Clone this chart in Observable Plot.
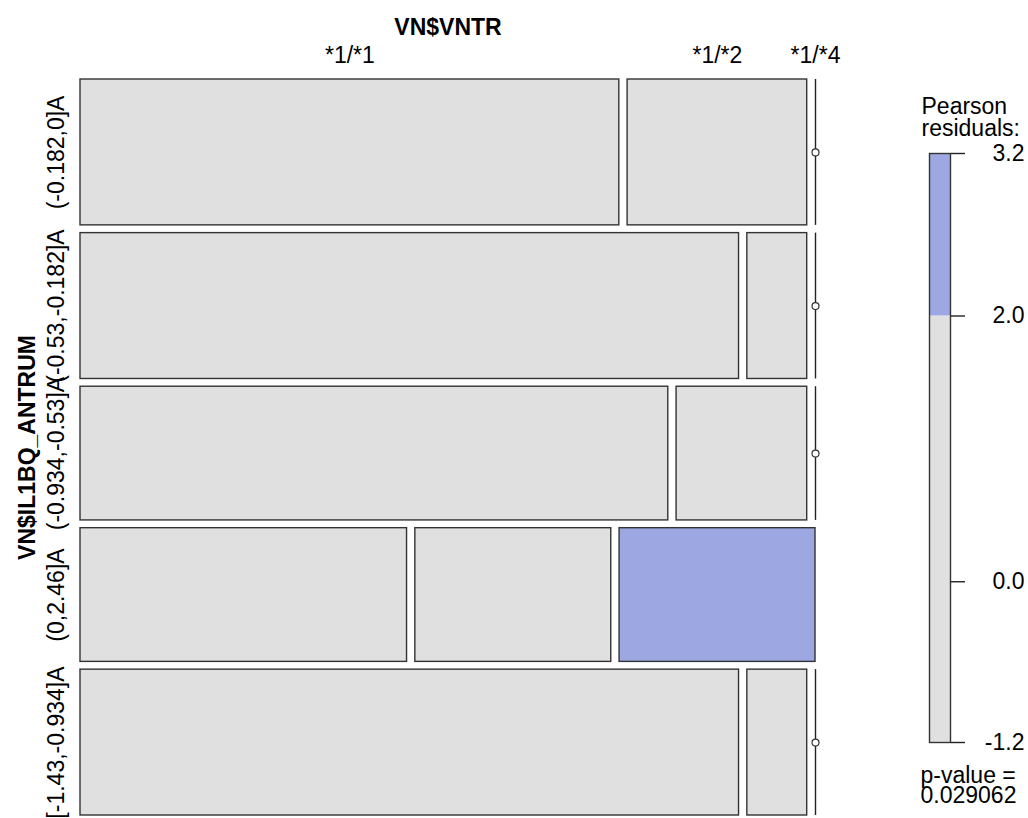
<!DOCTYPE html>
<html><head><meta charset="utf-8">
<script src="https://cdn.jsdelivr.net/npm/d3@7"></script>
<script src="https://cdn.jsdelivr.net/npm/@observablehq/plot@0.6"></script>
<style>
html,body{margin:0;padding:0;background:#fff;}
#wrap{position:relative;width:1028px;height:818px;overflow:hidden;}
#wrap svg{position:absolute;left:0;top:0;}
</style></head><body><div id="wrap"></div>
<script>
// ---- data ----
const rowVar = "VN$IL1BQ_ANTRUM";
const colVar = "VN$VNTR";
const rowLevels = ["(-0.182,0]A", "(-0.53,-0.182]A", "(-0.934,-0.53]A", "(0,2.46]A", "[-1.43,-0.934]A"];
const colLevels = ["*1/*1", "*1/*2", "*1/*4"];
const counts = [
  [9, 3, 0],
  [11, 1, 0],
  [9, 2, 0],
  [5, 3, 3],
  [11, 1, 0]
];
const legendTitle = ["Pearson", "residuals:"];
const pValueLines = ["p-value =", "0.029062"];
const shadeBreaks = [2, 4];

// ---- layout helpers ----
const W = 1028, H = 818;
const FONT = '"Liberation Sans", Arial, Helvetica, sans-serif';
const gapX = 8.3 / 735, gapY = 7.75 / 736;
const GREY = "#E0E0E0", BLUE = "#9DA8E2", RED = "#E2A0A0";
const STROKE = "#333333";

const N = d3.sum(counts.flat());
const rowTot = counts.map(r => d3.sum(r));
const colTot = colLevels.map((_, j) => d3.sum(counts, r => r[j]));

const cells = [], rowsInfo = [];
const availY = 1 - gapY * (rowLevels.length - 1);
const availX = 1 - gapX * (colLevels.length - 1);
let yc = 0;
rowLevels.forEach((rl, i) => {
  const h = rowTot[i] / N * availY;
  const y1 = yc, y2 = yc + h;
  rowsInfo.push({label: rl, ym: (y1 + y2) / 2});
  let xc = 0;
  colLevels.forEach((cl, j) => {
    const w = counts[i][j] / rowTot[i] * availX;
    const e = rowTot[i] * colTot[j] / N;
    const res = (counts[i][j] - e) / Math.sqrt(e);
    cells.push({row: rl, col: cl, i, j, x1: xc, x2: xc + w, y1, y2, ym: (y1 + y2) / 2, n: counts[i][j], res});
    xc += w + gapX;
  });
  yc = y2 + gapY;
});
const shade = r => r > shadeBreaks[0] ? BLUE : r < -shadeBreaks[0] ? RED : GREY;
const firstRow = cells.filter(d => d.i === 0);
const rmin = d3.min(cells, d => d.res), rmax = d3.max(cells, d => d.res);

const mosaic = Plot.plot({
  width: W, height: H,
  marginLeft: 80, marginRight: W - 815, marginTop: 79, marginBottom: H - 815,
  x: {domain: [0, 1], axis: null},
  y: {domain: [0, 1], reverse: true, axis: null},
  style: {fontFamily: FONT, fontSize: "23px", background: "transparent", overflow: "visible", color: "#000"},
  marks: [
    Plot.rect(cells.filter(d => d.n > 0), {x1: "x1", x2: "x2", y1: "y1", y2: "y2", fill: d => shade(d.res), stroke: STROKE, strokeWidth: 1.4}),
    Plot.ruleX(cells.filter(d => d.n === 0), {x: "x1", y1: "y1", y2: "y2", stroke: "#222", strokeWidth: 1.4}),
    Plot.dot(cells.filter(d => d.n === 0), {x: "x1", y: "ym", r: 3.5, fill: "white", stroke: STROKE, strokeWidth: 1.2}),
    Plot.text(firstRow, {x: d => (d.x1 + d.x2) / 2, text: "col", frameAnchor: "top", dy: -17, textAnchor: "middle", lineAnchor: "bottom"}),
    Plot.text([colVar], {text: d => d, frameAnchor: "top", dy: -45, textAnchor: "middle", lineAnchor: "bottom", fontWeight: "bold"}),
    Plot.text(rowsInfo, {y: "ym", text: "label", frameAnchor: "left", dx: -17, rotate: -90, textAnchor: "middle", lineAnchor: "bottom"}),
    Plot.text([rowVar], {text: d => d, frameAnchor: "left", dx: -46, rotate: -90, textAnchor: "middle", lineAnchor: "bottom", fontWeight: "bold"})
  ]
});

const bins = [];
const edges = [rmin, ...[-shadeBreaks[1], -shadeBreaks[0], shadeBreaks[0], shadeBreaks[1]].filter(b => b > rmin && b < rmax), rmax];
for (let k = 0; k < edges.length - 1; k++) bins.push({lo: edges[k], hi: edges[k + 1], fill: shade((edges[k] + edges[k + 1]) / 2)});
const legendTicks = [rmax, ...[-shadeBreaks[0], 0, shadeBreaks[0]].filter(b => b > rmin && b < rmax), rmin];

const legend = Plot.plot({
  width: W, height: H,
  marginLeft: 929, marginRight: W - 950, marginTop: 153, marginBottom: H - 742,
  x: {domain: [0, 1], axis: null},
  y: {domain: [rmin, rmax]},
  style: {fontFamily: FONT, fontSize: "23px", background: "transparent", overflow: "visible", color: "#000"},
  marks: [
    Plot.rect(bins, {x1: 0, x2: 1, y1: "lo", y2: "hi", fill: "fill"}),
    Plot.frame({stroke: STROKE, strokeWidth: 1.4}),
    Plot.axisY({anchor: "right", ticks: legendTicks, tickSize: 14, tickFormat: () => "", label: null, stroke: "#222", strokeWidth: 1.4}),
    Plot.text(legendTicks, {y: d => d, text: d => d.toFixed(1), frameAnchor: "right", dx: 74, textAnchor: "end", lineAnchor: "middle"}),
    Plot.text([legendTitle[0]], {text: d => d, frameAnchor: "top-left", dx: -8, dy: -40, textAnchor: "start", lineAnchor: "bottom"}),
    Plot.text([legendTitle[1]], {text: d => d, frameAnchor: "top-left", dx: -8, dy: -18, textAnchor: "start", lineAnchor: "bottom"}),
    Plot.text([pValueLines[0]], {text: d => d, frameAnchor: "bottom-left", dx: -9, dy: 40, textAnchor: "start", lineAnchor: "bottom"}),
    Plot.text([pValueLines[1]], {text: d => d, frameAnchor: "bottom-left", dx: -9, dy: 60, textAnchor: "start", lineAnchor: "bottom"})
  ]
});

const wrap = document.getElementById("wrap");
wrap.appendChild(mosaic);
wrap.appendChild(legend);
</script>
</body></html>
